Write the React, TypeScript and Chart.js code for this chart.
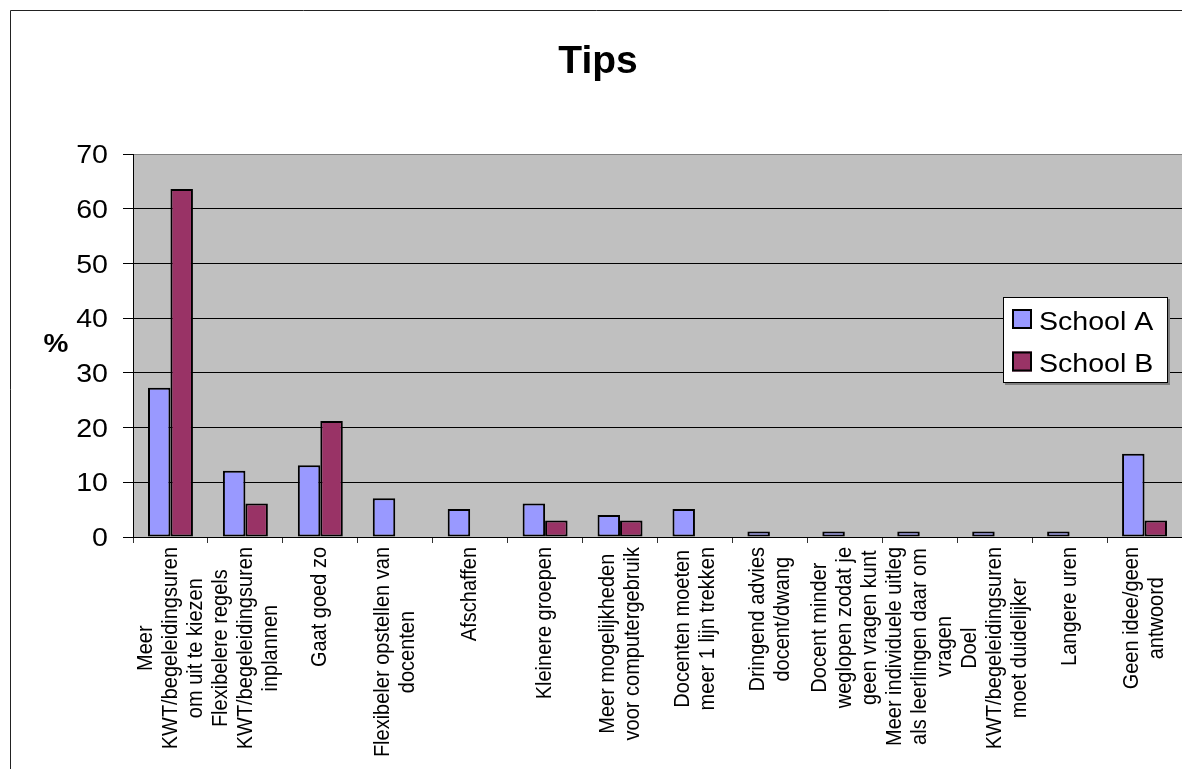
import React, { useEffect, useRef } from "react";
import { Chart, registerables } from "chart.js";

Chart.register(...registerables);

// ---- data ----
const categories: string[][] = [
  ["Meer", "KWT/begeleidingsuren", "om uit te kiezen"],
  ["Flexibelere regels", "KWT/begeleidingsuren", "inplannen"],
  ["Gaat goed zo"],
  ["Flexibeler opstellen van", "docenten"],
  ["Afschaffen"],
  ["Kleinere groepen"],
  ["Meer mogelijkheden", "voor computergebruik"],
  ["Docenten moeten", "meer 1 lijn trekken"],
  ["Dringend advies", "docent/dwang"],
  ["Docent minder", "weglopen zodat je", "geen vragen kunt"],
  ["Meer individuele uitleg", "als leerlingen daar om", "vragen"],
  ["Doel", "KWT/begeleidingsuren", "moet duidelijker"],
  ["Langere uren"],
  ["Geen idee/geen", "antwoord"],
];
const schoolA: (number | null)[] = [27.3, 12.1, 13.1, 7.1, 5.1, 6.1, 4.0, 5.1, 1.0, 1.0, 1.0, 1.0, 1.0, 15.2];
const schoolB: (number | null)[] = [63.6, 6.1, 21.2, null, null, 3.0, 3.0, null, null, null, null, null, null, 3.0];
const seriesNames = ["School A", "School B"];
const seriesColors = ["#9999FF", "#993366"];
const chartTitle = "Tips";
const yAxisTitle = "%";
const yMin = 0;
const yMax = 70;
const yStep = 10;

// ---- styling ----
const FONT = '"Liberation Sans", Arial, Helvetica, sans-serif';
const SX = 1.12; // horizontal stretch of the reference's text

function stretchText(
  ctx: CanvasRenderingContext2D,
  text: string,
  x: number,
  y: number,
  align: CanvasTextAlign,
  font: string,
  sx = SX
) {
  ctx.save();
  ctx.translate(x, y);
  ctx.scale(sx, 1);
  ctx.font = font;
  ctx.textAlign = align;
  ctx.textBaseline = "alphabetic";
  ctx.fillStyle = "#000";
  ctx.fillText(text, 0, 0);
  ctx.restore();
}

const decor = {
  id: "decor",
  beforeDraw(chart: any) {
    const { ctx, chartArea: a } = chart;
    ctx.save();
    ctx.fillStyle = "#ffffff";
    ctx.fillRect(0, 0, chart.width, chart.height);
    ctx.fillStyle = "#C0C0C0";
    ctx.fillRect(a.left, a.top, a.right - a.left, a.bottom - a.top);
    ctx.restore();
  },
  afterDraw(chart: any) {
    const { ctx, chartArea: a } = chart;
    const xs = chart.scales.x;
    const ys = chart.scales.y;

    // outer frame (left & top visible)
    ctx.save();
    ctx.strokeStyle = "#222";
    ctx.lineWidth = 1;
    ctx.beginPath();
    ctx.moveTo(10.5, chart.height);
    ctx.lineTo(10.5, 10.5);
    ctx.lineTo(chart.width, 10.5);
    ctx.stroke();
    ctx.restore();

    // title
    ctx.save();
    ctx.font = `bold 39px ${FONT}`;
    ctx.textAlign = "center";
    ctx.textBaseline = "alphabetic";
    ctx.fillStyle = "#000";
    ctx.fillText(chartTitle, 598, 73);
    ctx.restore();

    // y axis title
    stretchText(ctx, yAxisTitle, 56, 352, "center", `bold 25px ${FONT}`);

    // y tick labels
    ys.ticks.forEach((t: any) => {
      const y = ys.getPixelForValue(t.value);
      stretchText(ctx, String(t.value), a.left - 25, y + 9.2, "right", `25.5px ${FONT}`);
    });

    // x category labels (rotated, lines centered, block top-aligned)
    const lineStep = 25 / SX;
    (chart.data.labels as string[][]).forEach((lines, i) => {
      const cx = xs.getPixelForValue(i);
      const top = a.bottom + 10;
      ctx.save();
      ctx.font = `20px ${FONT}`;
      const w = Math.max(...lines.map((l) => ctx.measureText(l).width));
      ctx.translate(cx, top);
      ctx.scale(SX, 1);
      ctx.rotate(-Math.PI / 2);
      ctx.textAlign = "center";
      ctx.textBaseline = "middle";
      ctx.fillStyle = "#000";
      lines.forEach((l, k) => {
        const v = (k - (lines.length - 1) / 2) * lineStep;
        ctx.fillText(l, -w / 2, v);
      });
      ctx.restore();
    });

    // legend
    const bx = a.right - 179;
    const by = a.top + 143;
    const bw = 165;
    const bh = 86;
    ctx.save();
    ctx.fillStyle = "#808080";
    ctx.fillRect(bx + 2, by + 2, bw, bh);
    ctx.fillStyle = "#ffffff";
    ctx.fillRect(bx, by, bw, bh);
    ctx.strokeStyle = "#000";
    ctx.lineWidth = 1;
    ctx.strokeRect(bx + 0.5, by + 0.5, bw - 1, bh - 1);
    seriesNames.forEach((name, k) => {
      const sy = by + 12 + k * 42.5;
      ctx.fillStyle = seriesColors[k];
      ctx.fillRect(bx + 9, sy, 20, 20);
      ctx.strokeStyle = "#000";
      ctx.lineWidth = 2;
      ctx.strokeRect(bx + 10, sy + 1, 18, 18);
      stretchText(ctx, name, bx + 36, sy + 20.5, "left", `25.5px ${FONT}`);
    });
    ctx.restore();
  },
};

export default function App() {
  const ref = useRef<HTMLCanvasElement | null>(null);

  useEffect(() => {
    if (!ref.current) return;
    const chart = new Chart(ref.current, {
      type: "bar",
      data: {
        labels: categories as any,
        datasets: [
          {
            label: seriesNames[0],
            data: schoolA,
            backgroundColor: seriesColors[0],
            borderColor: "#000",
            borderWidth: 2,
            borderSkipped: false,
          },
          {
            label: seriesNames[1],
            data: schoolB,
            backgroundColor: seriesColors[1],
            borderColor: "#000",
            borderWidth: 2,
            borderSkipped: false,
          },
        ],
      },
      options: {
        animation: false,
        responsive: true,
        maintainAspectRatio: false,
        devicePixelRatio: 1,
        layout: { padding: { top: 154, left: 0, right: 0, bottom: 0 } },
        datasets: {
          bar: { categoryPercentage: 0.6, barPercentage: 1 },
        },
        plugins: {
          legend: { display: false },
          title: { display: false },
          tooltip: { enabled: false },
        },
        scales: {
          x: {
            offset: true,
            ticks: { display: false },
            grid: {
              display: true,
              offset: true,
              drawOnChartArea: false,
              drawTicks: true,
              tickLength: 6,
              color: "#333",
            },
            border: { display: true, color: "#000", width: 1 },
            afterFit: (s: any) => {
              s.height = 232;
            },
          },
          y: {
            min: yMin,
            max: yMax,
            ticks: { display: false, stepSize: yStep },
            grid: {
              color: (c: any) => (c.tick && c.tick.value === yMax ? "#808080" : "#000"),
              tickColor: "#000",
              lineWidth: 1,
              drawTicks: true,
              tickLength: 10,
            },
            border: { display: true, color: "#000", width: 1 },
            afterFit: (s: any) => {
              s.width = 133;
            },
          },
        },
      },
      plugins: [decor],
    });
    return () => chart.destroy();
  }, []);

  return (
    <div style={{ position: "fixed", left: 0, top: 0, width: 1182, height: 769, background: "#fff" }}>
      <canvas ref={ref} />
    </div>
  );
}
